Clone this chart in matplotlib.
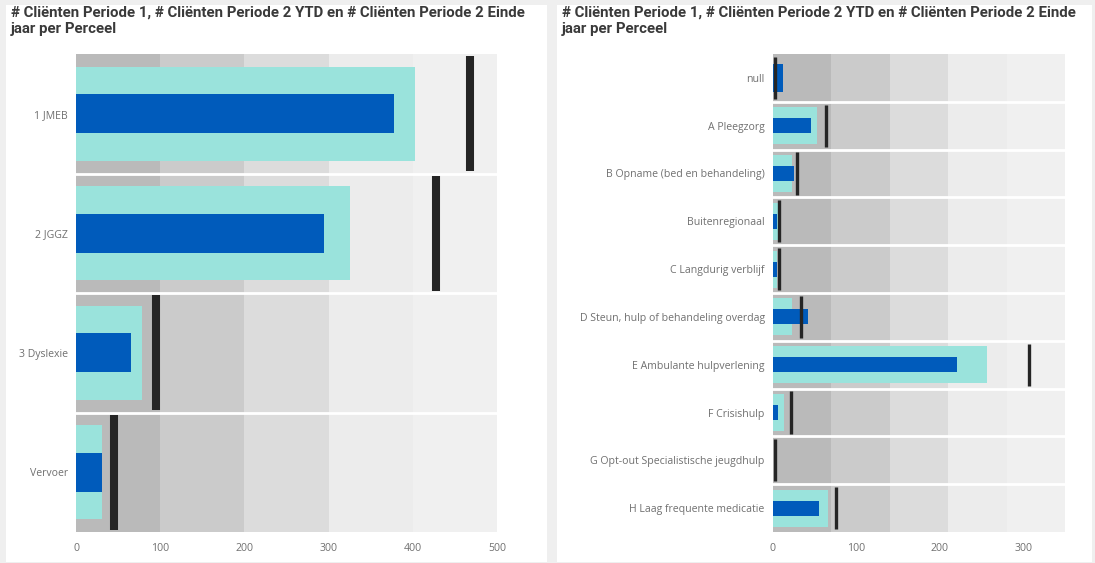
import numpy as np
import matplotlib.pyplot as plt
from matplotlib.patches import Rectangle

# --- data -------------------------------------------------------------
title = ("# Cliënten Periode 1, # Cliënten Periode 2 YTD en # Cliënten Periode 2 Einde\n"
         "jaar per Perceel")

left_cats = ['1 JMEB', '2 JGGZ', '3 Dyslexie', 'Vervoer']
left_p1 = [403, 326, 78, 31]          # teal
left_ytd = [378, 295, 65, 31]         # blue
left_target = [468, 427, 95, 45]      # black marker
left_bands = [100, 200, 300, 400, 500]
left_ticks = [0, 100, 200, 300, 400, 500]

right_cats = ['null', 'A Pleegzorg', 'B Opname (bed en behandeling)', 'Buitenregionaal',
              'C Langdurig verblijf', 'D Steun, hulp of behandeling overdag',
              'E Ambulante hulpverlening', 'F Crisishulp',
              'G Opt-out Specialistische jeugdhulp', 'H Laag frequente medicatie']
right_p1 = [np.nan, 53, 23, 5.5, 5, 23, 256, 13.5, np.nan, 66]
right_ytd = [12, 45.5, 25, 5, 5, 42, 220, 5.5, 0, 55]
right_target = [2, 63.5, 29, 7.5, 7, 34, 307, 21.5, 2.5, 75]
right_bands = [70, 140, 210, 280, 350]
right_ticks = [0, 100, 200, 300]

band_colors = ['#bababa', '#cbcbcb', '#dcdcdc', '#ececec', '#f0f0f0']
TEAL = '#9ae3dc'
BLUE = '#005bbb'
MARK = '#252525'

W, H = 1095, 563
fig = plt.figure(figsize=(W / 100, H / 100), dpi=100, facecolor='#efefef')


def box(x0, y0, x1, y1):
    # pixel box (top-left origin) -> figure coords
    return [x0 / W, 1 - y1 / H, (x1 - x0) / W, (y1 - y0) / H]


# white panels
for x0, x1 in [(6, 547), (557, 1092)]:
    b = box(x0, 5, x1, 562)
    fig.patches.append(Rectangle((b[0], b[1]), b[2], b[3], transform=fig.transFigure,
                                 facecolor='white', edgecolor='none', zorder=-5))
    fig.text((x0 + 5) / W, 1 - 6 / H, title, ha='left', va='top', fontsize=10.8,
             family='Roboto', fontweight='bold', color='#3a3a3a', linespacing=1.15)


def bullet(ax, cats, p1, ytd, target, bands, ticks, teal_h, blue_h, tgt_h, tgt_lw):
    p1 = np.array(p1, dtype=float)
    y = np.arange(len(cats))
    start = 0
    for end, c in zip(bands, band_colors):
        ax.barh(y, end - start, left=start, height=1.0, color=c, linewidth=0)
        start = end
    ax.barh(y, np.nan_to_num(p1), height=teal_h, color=TEAL, linewidth=0)
    # rows without a Periode 1 value get a thicker blue bar
    bh = np.where(np.isnan(p1), 0.6, blue_h)
    ax.barh(y, ytd, height=bh, color=BLUE, linewidth=0)
    ax.vlines(target, y - tgt_h / 2, y + tgt_h / 2, color=MARK, lw=tgt_lw, capstyle='butt')
    for s in y[:-1] + 0.5:
        ax.axhline(s, color='white', lw=2)

    ax.set_xlim(0, bands[-1])
    ax.set_ylim(len(cats) - 0.5, -0.5)
    ax.set_yticks(y)
    ax.set_yticklabels(cats)
    ax.set_xticks(ticks)
    ax.set_facecolor('white')
    for sp in ax.spines.values():
        sp.set_visible(False)
    ax.tick_params(axis='both', length=0, labelsize=7.6, labelcolor='#707070')
    ax.tick_params(axis='x', pad=8)
    ax.tick_params(axis='y', pad=6)
    for lab in ax.get_xticklabels() + ax.get_yticklabels():
        lab.set_family('Open Sans')


ax1 = fig.add_axes(box(76, 54, 497, 532))
bullet(ax1, left_cats, left_p1, left_ytd, left_target, left_bands, left_ticks,
       teal_h=0.79, blue_h=0.33, tgt_h=0.96, tgt_lw=5.8)

ax2 = fig.add_axes(box(773, 54, 1065, 532))
bullet(ax2, right_cats, right_p1, right_ytd, right_target, right_bands, right_ticks,
       teal_h=0.77, blue_h=0.31, tgt_h=0.88, tgt_lw=2.4)

fig.savefig('out.png', dpi=100, facecolor=fig.get_facecolor())
